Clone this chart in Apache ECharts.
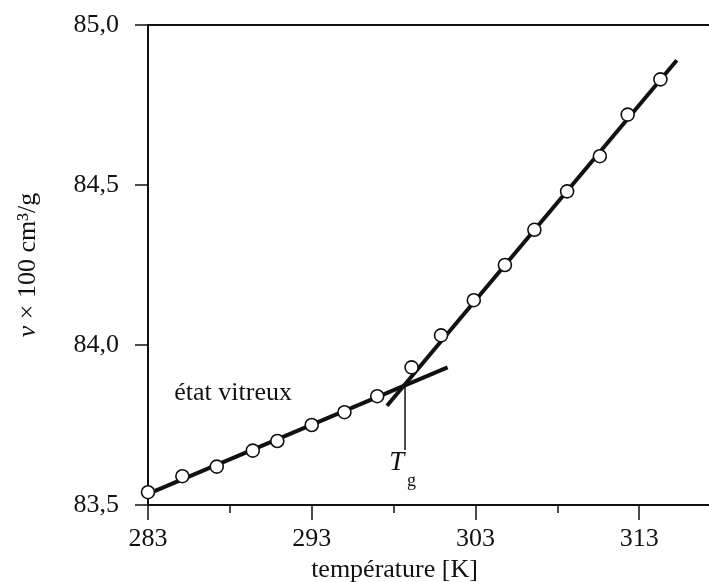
<!DOCTYPE html>
<html>
<head>
<meta charset="utf-8">
<script src="https://cdn.jsdelivr.net/npm/echarts@6/dist/echarts.min.js"></script>
<style>
  html, body { margin: 0; padding: 0; background: #ffffff; }
  #chart { width: 709px; height: 582px; }
</style>
</head>
<body>
<div id="chart"></div>
<script>
// ---- data ----
const xMajorTicks = [283, 293, 303, 313];
const xMinorTicks = [288, 298, 308];
const glassT = [283.0, 285.1, 287.2, 289.4, 290.9, 293.0, 295.0, 297.0];
const glassV = [83.54, 83.59, 83.62, 83.67, 83.70, 83.75, 83.79, 83.84];
const rubberT = [299.1, 300.9, 302.9, 304.8, 306.6, 308.6, 310.6, 312.3, 314.3];
const rubberV = [83.93, 84.03, 84.14, 84.25, 84.36, 84.48, 84.59, 84.72, 84.83];
const glassFitT = [283.0, 301.3];
const glassFitV = [83.535, 83.93];
const rubberFitT = [297.6, 315.3];
const rubberFitV = [83.81, 84.89];
const tgLineT = [298.7, 298.7];
const tgLineV = [83.876, 83.672];
const noteTexts = ['état vitreux', 'T', 'g'];
const noteT = [288.2, 298.2, 299.1];
const noteV = [83.85, 83.631, 83.575];

const zip = (a, b) => a.map((v, i) => [v, b[i]]);
const FONT = 'Liberation Serif';
const INK = '#111111';

const chart = echarts.init(document.getElementById('chart'), null, { renderer: 'canvas' });

const noteStyles = [
  { fontSize: 26, fontStyle: 'normal' },
  { fontSize: 27, fontStyle: 'italic' },
  { fontSize: 18, fontStyle: 'normal' }
];

const option = {
  backgroundColor: '#ffffff',
  animation: false,
  grid: {
    left: 148, top: 25, bottom: 77, right: -12,
    outerBoundsMode: 'none', containLabel: false,
    show: true, borderColor: INK, borderWidth: 2, backgroundColor: 'transparent'
  },
  xAxis: [
    {
      type: 'value', min: 283, max: 318,
      position: 'bottom',
      name: 'température [K]',
      nameLocation: 'middle',
      nameGap: 49,
      nameTextStyle: { fontFamily: FONT, fontSize: 26, color: INK, padding: [0, 80, 0, 0] },
      axisLine: { show: true, lineStyle: { color: INK, width: 2 } },
      axisTick: { show: true, length: 15, customValues: xMajorTicks, lineStyle: { color: INK, width: 1.5 } },
      axisLabel: { show: true, customValues: xMajorTicks, margin: 21, fontFamily: FONT, fontSize: 26, color: INK },
      splitLine: { show: false }
    },
    {
      type: 'value', min: 283, max: 318,
      position: 'bottom',
      axisLine: { show: false },
      axisTick: { show: true, length: 8, customValues: xMinorTicks, lineStyle: { color: INK, width: 1.5 } },
      axisLabel: { show: false },
      splitLine: { show: false }
    }
  ],
  yAxis: {
    type: 'value', min: 83.5, max: 85.0, interval: 0.5,
    name: '{i|v} × 100 cm³/g',
    nameLocation: 'middle',
    nameGap: 107,
    nameRotate: 90,
    nameTextStyle: {
      fontFamily: FONT, fontSize: 26, color: INK,
      rich: { i: { fontFamily: FONT, fontSize: 26, fontStyle: 'italic', color: INK } }
    },
    axisLine: { show: true, lineStyle: { color: INK, width: 2 } },
    axisTick: { show: true, length: 13, lineStyle: { color: INK, width: 1.5 } },
    axisLabel: {
      margin: 29, fontFamily: FONT, fontSize: 26, color: INK,
      formatter: v => v.toFixed(1).replace('.', ',')
    },
    splitLine: { show: false }
  },
  series: [
    {
      type: 'line', name: 'glass fit', data: zip(glassFitT, glassFitV),
      showSymbol: false, symbol: 'none', z: 2,
      lineStyle: { color: INK, width: 4 }
    },
    {
      type: 'line', name: 'rubber fit', data: zip(rubberFitT, rubberFitV),
      showSymbol: false, symbol: 'none', z: 2,
      lineStyle: { color: INK, width: 4 }
    },
    {
      type: 'line', name: 'Tg', data: zip(tgLineT, tgLineV),
      showSymbol: false, symbol: 'none', z: 2,
      lineStyle: { color: INK, width: 1.5 }
    },
    {
      type: 'scatter', name: 'glass', data: zip(glassT, glassV),
      symbol: 'circle', symbolSize: 13, z: 5,
      itemStyle: { color: '#ffffff', borderColor: INK, borderWidth: 1.6, opacity: 1 }
    },
    {
      type: 'scatter', name: 'rubber', data: zip(rubberT, rubberV),
      symbol: 'circle', symbolSize: 13, z: 5,
      itemStyle: { color: '#ffffff', borderColor: INK, borderWidth: 1.6, opacity: 1 }
    },
    {
      type: 'scatter', name: 'notes', symbolSize: 0, z: 6, silent: true,
      itemStyle: { opacity: 1 },
      data: noteTexts.map((t, i) => ({
        value: [noteT[i], noteV[i]],
        label: {
          show: true, position: 'inside', formatter: t,
          fontFamily: FONT, color: INK,
          fontSize: noteStyles[i].fontSize, fontStyle: noteStyles[i].fontStyle
        }
      }))
    }
  ]
};

chart.setOption(option);
</script>
</body>
</html>
